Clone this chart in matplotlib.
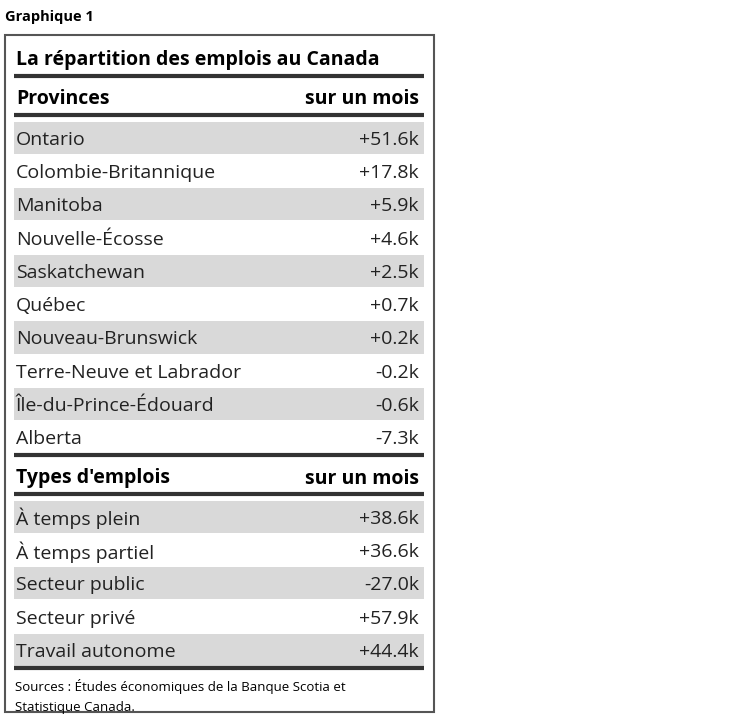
import matplotlib.pyplot as plt
from matplotlib.patches import Rectangle

FONT = "Open Sans"
DARK = "#333333"
SHADE = "#d9d9d9"

provinces = ["Ontario", "Colombie-Britannique", "Manitoba", "Nouvelle-Écosse", "Saskatchewan",
             "Québec", "Nouveau-Brunswick", "Terre-Neuve et Labrador",
             "Île-du-Prince-Édouard", "Alberta"]
province_vals = ["+51.6k", "+17.8k", "+5.9k", "+4.6k", "+2.5k",
                 "+0.7k", "+0.2k", "-0.2k", "-0.6k", "-7.3k"]
types = ["À temps plein", "À temps partiel", "Secteur public", "Secteur privé", "Travail autonome"]
type_vals = ["+38.6k", "+36.6k", "-27.0k", "+57.9k", "+44.4k"]

fig = plt.figure(figsize=(7.48, 7.15), dpi=100)
ax = fig.add_axes([0, 0, 1, 1])
ax.set_xlim(0, 748)
ax.set_ylim(715, 0)
ax.axis("off")

XL, XR = 14, 424
ROW = 33.3

ax.text(5, 16, "Graphique 1", fontsize=10.5, fontweight="bold", family=FONT, va="center_baseline")
ax.add_patch(Rectangle((5, 35), 429, 677, fill=False, ec="#555555", lw=1.5))
ax.text(16, 58, "La répartition des emplois au Canada", fontsize=14, fontweight="bold",
        family=FONT, va="center_baseline")


def hline(y):
    ax.plot([XL, XR], [y, y], color=DARK, lw=3, solid_capstyle="butt")


def section(y_top, header, names, vals):
    hline(y_top)
    ax.text(16, y_top + 21, header, fontsize=14, fontweight="bold", family=FONT, va="center_baseline")
    ax.text(419, y_top + 21, "sur un mois", fontsize=14, fontweight="bold", family=FONT,
            va="center_baseline", ha="right")
    y0 = y_top + 39
    hline(y0)
    start = y0 + 6
    for i, (n, v) in enumerate(zip(names, vals)):
        yc = start + ROW * i + ROW / 2
        if i % 2 == 0:
            ax.add_patch(Rectangle((XL, yc - ROW / 2 + 0.5), XR - XL, ROW - 1, color=SHADE, lw=0))
        ax.text(16, yc, n, fontsize=14, family=FONT, va="center_baseline", color="#222222")
        ax.text(419, yc, v, fontsize=14, family=FONT, va="center_baseline", ha="right", color="#222222")
    return start + ROW * len(names) + 1


end = section(76, "Provinces", provinces, province_vals)
end = section(end, "Types d'emplois", types, type_vals)
hline(end)

ax.text(15, end + 18, "Sources : Études économiques de la Banque Scotia et", fontsize=9.5,
        family=FONT, va="center_baseline")
ax.text(15, end + 39, "Statistique Canada.", fontsize=9.5, family=FONT, va="center_baseline")

fig.savefig("out.png", dpi=100, facecolor="white")
